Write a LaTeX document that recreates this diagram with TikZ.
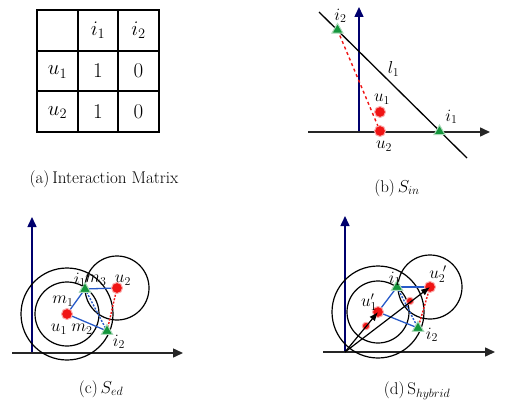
\documentclass[tikz,border=0pt]{standalone}
\usepackage{xcolor}
\usepackage{tikz}
\usetikzlibrary{arrows.meta,positioning,shapes.geometric,backgrounds}

\definecolor{axisblue}{RGB}{0,0,110}
\definecolor{dotred}{RGB}{240,20,20}
\definecolor{trigreen}{RGB}{20,150,60}
\definecolor{linkblue}{RGB}{40,90,200}

\begin{document}
\begin{tikzpicture}[
  x=1pt, y=-1pt,
  lbl/.style={inner sep=0pt, font=\fontsize{17.5}{20}\selectfont},
  cell/.style={inner sep=0pt, font=\fontsize{21}{24}\selectfont},
  captxt/.style={inner sep=0pt, font=\fontsize{17}{20}\selectfont},
  reddot/.style={circle, fill=dotred, draw=dotred!35, line width=1pt, minimum size=11pt, inner sep=0pt},
  smalldot/.style={reddot, minimum size=7.5pt},
  tri/.style={regular polygon, regular polygon sides=3, fill=trigreen, draw=trigreen!35, line width=1pt, minimum size=13pt, inner sep=0pt},
  yaxis/.style={-{Triangle[length=10pt,width=9pt]}, axisblue, line width=1.5pt},
  xaxis/.style={-{Triangle[length=10pt,width=9pt]}, black!85, line width=1.5pt},
  ring/.style={draw, line width=1.2pt},
  link/.style={linkblue, line width=1.3pt},
  dotlink/.style={line width=1.4pt, dash pattern=on 2pt off 1.5pt},
  vec/.style={-{Latex[length=9pt,width=7pt]}, line width=1.2pt}
]
\useasboundingbox (0,0) rectangle (505,403);

% (a) interaction matrix
\draw[line width=1.6pt] (37,10) rectangle (159,132);
\foreach \x in {78,118} \draw[line width=1.6pt] (\x,10) -- (\x,132);
\foreach \y in {51,91} \draw[line width=1.6pt] (37,\y) -- (159,\y);
\node[cell] (hi1) at (98,30.5) {$i_1$};
\node[cell] (hi2) at (138.5,30.5) {$i_2$};
\node[cell] (ru1) at (57.5,72) {$u_1$};
\node[cell] (ru2) at (57.5,112.5) {$u_2$};
\node[cell] (c11) at (98,71) {1};
\node[cell] (c12) at (138.5,71) {0};
\node[cell] (c21) at (98,111.5) {1};
\node[cell] (c22) at (138.5,111.5) {0};
\node[captxt] (capa) at (104,179) {(a)\,Interaction Matrix};

% (b) S_in
\coordinate (bO) at (359,132);
\coordinate (bYtip) at (359,7);
\coordinate (bXs) at (308,132);
\coordinate (bXtip) at (490,132);
\coordinate (lA) at (319,12);
\coordinate (lB) at (467,158);
\node[tri] (i2b) at (337.5,30) {};
\node[tri] (i1b) at (439.5,131.5) {};
\node[reddot] (u1b) at (380,112) {};
\node[reddot] (u2b) at (380,131) {};
\begin{scope}[on background layer]
  \draw[yaxis] (bO) -- (bYtip);
  \draw[xaxis] (bXs) -- (bXtip);
  \draw[line width=1.3pt] (lA) -- (lB);
  \draw[dotred, line width=1.4pt, dashed] (i2b.center) -- (u2b.center);
\end{scope}
\node[lbl] (li2b) at (340.5,16) {$i_2$};
\node[lbl] (ll1) at (393.5,69) {$l_1$};
\node[lbl] (lu1b) at (382,99) {$u_1$};
\node[lbl] (li1b) at (451.5,117) {$i_1$};
\node[lbl] (lu2b) at (384,146) {$u_2$};
\node[captxt] (capb) at (397,188) {(b)\,$S_{in}$};

% (c) S_ed
\coordinate (cO) at (32,353);
\coordinate (cYtip) at (32,217);
\coordinate (cXs) at (12,353);
\coordinate (cXtip) at (183,353);
\node[reddot] (u1c) at (67,314) {};
\node[reddot] (u2c) at (117,288) {};
\node[tri] (i1c) at (85,289) {};
\node[tri] (i2c) at (107,331) {};
\begin{scope}[on background layer]
  \draw[yaxis] (cO) -- (cYtip);
  \draw[xaxis] (cXs) -- (cXtip);
  \draw[ring] (u1c.center) circle[radius=32pt];
  \draw[ring] (u1c.center) circle[radius=46pt];
  \draw[ring] (u2c.center) circle[radius=32pt];
  \draw[link] (u1c.center) -- (i1c.center);
  \draw[link] (u1c.center) -- (i2c.center);
  \draw[link] (i1c.center) -- (u2c.center);
  \draw[dotlink, linkblue] (i1c.center) -- (i2c.center);
  \draw[dotlink, dotred] (u2c.center) -- (i2c.center);
\end{scope}
\node[lbl] (li1c) at (80,280) {$i_1$};
\node[lbl] (lm3) at (96,280) {$m_3$};
\node[lbl] (lu2c) at (123,280) {$u_2$};
\node[lbl] (lm1) at (63,301) {$m_1$};
\node[lbl] (lu1c) at (59,329) {$u_1$};
\node[lbl] (lm2) at (82,329) {$m_2$};
\node[lbl] (li2c) at (119,342) {$i_2$};
\node[captxt] (capc) at (101,389) {(c)\,$S_{ed}$};

% (d) S_hybrid
\coordinate (dO) at (345,352);
\coordinate (dYtip) at (345,216);
\coordinate (dXs) at (323,352);
\coordinate (dXtip) at (495,352);
\node[reddot] (u1d) at (378,312) {};
\node[reddot] (u2d) at (430,287) {};
\node[smalldot] (s1d) at (366,326) {};
\node[smalldot] (s2d) at (410,301) {};
\node[tri] (i1d) at (397,287) {};
\node[tri] (i2d) at (418,328) {};
\begin{scope}[on background layer]
  \draw[yaxis] (dO) -- (dYtip);
  \draw[xaxis] (dXs) -- (dXtip);
  \draw[ring] (u1d.center) circle[radius=31pt];
  \draw[ring] (u1d.center) circle[radius=46pt];
  \draw[ring] (u2d.center) circle[radius=32pt];
  \draw[link] (u1d.center) -- (i1d.center);
  \draw[link] (u1d.center) -- (i2d.center);
  \draw[link] (i1d.center) -- (u2d.center);
  \draw[dotlink, linkblue] (i1d.center) -- (i2d.center);
  \draw[dotlink, dotred] (u2d.center) -- (i2d.center);
\end{scope}
\draw[vec] (dO) -- (u1d.center);
\draw[vec] (dO) -- (u2d.center);
\node[lbl] (li1d) at (395,279) {$i_1$};
\node[lbl] (lu1d) at (369,302) {$u_1^{\prime}$};
\node[lbl] (lu2d) at (438,274) {$u_2^{\,\,\prime}$};
\node[lbl] (li2d) at (432,335) {$i_2$};
\node[captxt] (capd) at (417,391) {(d)\,S$_{hybrid}$};
\end{tikzpicture}
\end{document}
